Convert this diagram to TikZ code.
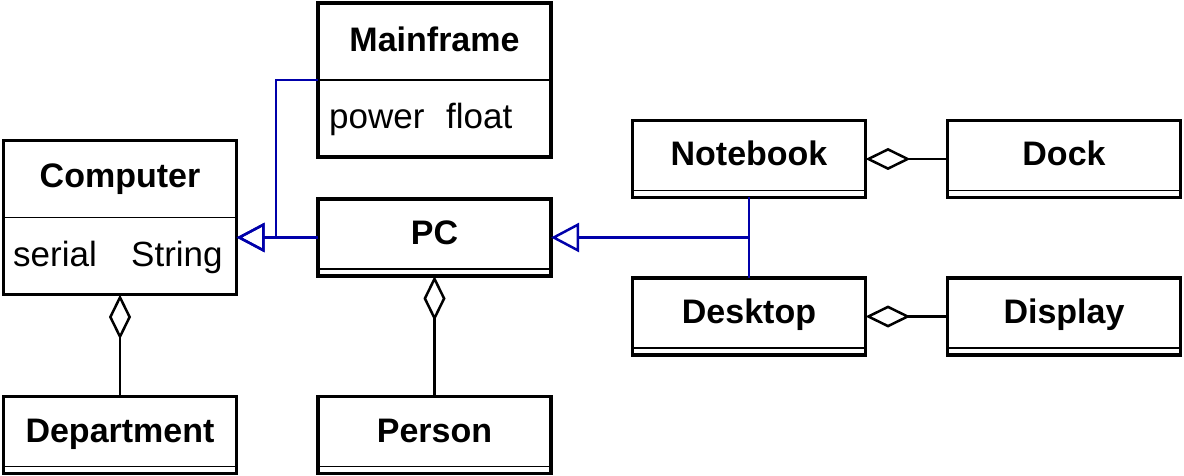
\documentclass[tikz,border=0pt]{standalone}
\usepackage{fontspec}
\setmainfont{Liberation Sans}
\usepackage{tikz}
\usetikzlibrary{arrows.meta}

\definecolor{umlblue}{RGB}{0,0,170}

\tikzset{
  cls/.style={draw, line width=3.5pt, minimum width=233pt, minimum height=77pt,
    inner sep=0pt, outer sep=0pt, font=\bfseries\fontsize{34}{40}\selectfont,
    text height=24pt, text depth=10pt},
  big/.style={cls, minimum height=154pt},
  title/.style={anchor=base, inner sep=0pt, font=\bfseries\fontsize{34}{40}\selectfont},
  attr/.style={anchor=base west, inner sep=0pt, font=\fontsize{35}{40}\selectfont},
  sep/.style={line width=1.5pt},
  isa/.style={draw=umlblue, line width=2.5pt, -{Triangle[open, length=28pt, width=29pt]}},
  gen/.style={draw=umlblue, line width=2.5pt},
  has/.style={line width=2.5pt, {Diamond[open, length=45pt, width=22pt]}-},
}

\begin{document}
\begin{tikzpicture}[x=1pt, y=-1pt]
    \useasboundingbox (0,0) rectangle (1184,476);

    % classes with an attribute
    \node[big]   (mf)      at (434.5,80)    {};
    \node[big]   (comp)    at (120,217.5)   {};
    \node[title] (mfname)  at (434.5,52)    {Mainframe};
    \node[title] (compname) at (120,188)    {Computer};
    \node[attr]  (mfpower)  at (329,129)    {power};
    \node[attr]  (mffloat)  at (446,129)    {float};
    \node[attr]  (compserial) at (13,266.5) {serial};
    \node[attr]  (compstring) at (131,266.5) {String};
    \draw[sep] (mf.west) -- (mf.east);
    \draw[sep] (comp.west) -- (comp.east);

    % plain classes
    \node[cls] (pc)     at (434.5,237.5) {PC};
    \node[cls] (nb)     at (749,159)     {Notebook};
    \node[cls] (dock)   at (1064,159)    {Dock};
    \node[cls] (dt)     at (749,316.5)   {Desktop};
    \node[cls] (disp)   at (1064,316.5)  {Display};
    \node[cls] (dept)   at (120,435)     {Department};
    \node[cls] (person) at (434.5,435)   {Person};
    \foreach \c in {pc,nb,dock,dt,disp,dept,person}
        \draw[sep] ([yshift=7pt]\c.south west) -- ([yshift=7pt]\c.south east);

    % generalisation
    \draw[isa] (mf.west) -- ++(-42,0) |- (comp.east |- pc.west);
    \draw[isa] (pc.west) -- (comp.east |- pc.west);
    \draw[gen] (nb.south) -- (dt.north);
    \draw[isa] (nb.south |- pc.east) -- (pc.east);

    % aggregation
    \draw[has] (comp.south) -- (dept.north);
    \draw[has] (pc.south)   -- (person.north);
    \draw[has] (nb.east)    -- (dock.west);
    \draw[has] (dt.east)    -- (disp.west);
\end{tikzpicture}
\end{document}
